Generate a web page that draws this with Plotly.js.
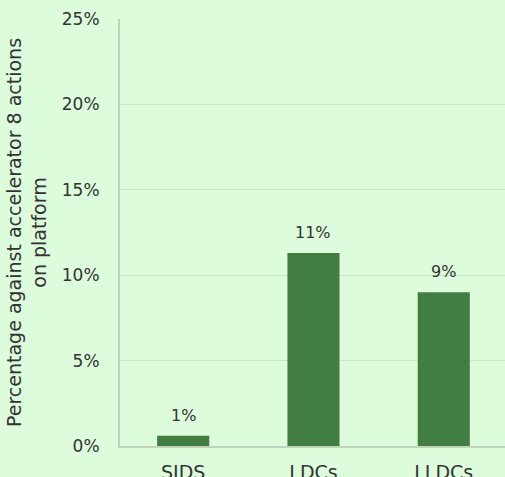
<!DOCTYPE html>
<html>
<head>
<meta charset="utf-8">
<script src="https://cdn.plot.ly/plotly-3.0.1.min.js"></script>
<style>
  html, body { margin: 0; padding: 0; background: #dcfcdc; }
  #chart { width: 505px; height: 477px; }
</style>
</head>
<body>
<div id="chart"></div>
<script>
const categories = ["SIDS", "LDCs", "LLDCs"];
const values = [0.6, 11.3, 9.0];
const yTickVals = [0, 5, 10, 15, 20, 25];
const yTickText = ["0%", "5%", "10%", "15%", "20%", "25%"];
const yTitle = "Percentage against accelerator 8 actions<br>on platform";

const labels = values.map(v => Math.round(v) + "%");
const FONT = "DejaVu Sans, sans-serif";

const trace = {
  type: "bar",
  x: categories,
  y: values,
  width: 0.4,
  marker: { color: "#427d41" },
  hoverinfo: "none"
};

const annotations = categories.map((c, i) => ({
  x: c, y: values[i], xref: "x", yref: "y",
  text: labels[i], showarrow: false,
  yanchor: "bottom", yshift: 9,
  font: { family: FONT, size: 16, color: "#333333" }
}));

const layout = {
  width: 505, height: 477,
  paper_bgcolor: "#dcfcdc",
  plot_bgcolor: "#dcfcdc",
  margin: { l: 120, r: 0, t: 19, b: 31 },
  showlegend: false,
  font: { family: FONT, size: 16, color: "#333333" },
  xaxis: {
    type: "category",
    range: [-0.485, 2.47],
    showgrid: false,
    showline: true, linecolor: "#bfd3bd", linewidth: 2,
    ticks: "", ticklabelstandoff: 8,
    tickfont: { family: FONT, size: 19, color: "#333333" },
    fixedrange: true
  },
  yaxis: {
    range: [0, 25],
    tickvals: yTickVals, ticktext: yTickText,
    showgrid: true, gridcolor: "#c9e6c6", gridwidth: 1,
    showline: true, linecolor: "#bfd3bd", linewidth: 2,
    zeroline: false,
    ticks: "", ticklabelstandoff: 15,
    tickfont: { family: FONT, size: 17, color: "#333333" },
    title: { text: yTitle, standoff: 10, font: { family: FONT, size: 19, color: "#333333" } },
    fixedrange: true
  },
  annotations: annotations
};

Plotly.newPlot("chart", [trace], layout, { displayModeBar: false, staticPlot: true });
</script>
</body>
</html>
